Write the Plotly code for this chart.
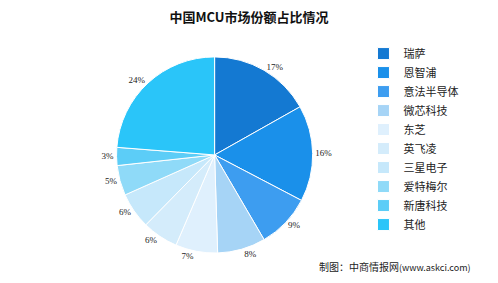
import plotly.graph_objects as go

labels = ["瑞萨", "恩智浦", "意法半导体", "微芯科技", "东芝", "英飞凌", "三星电子", "爱特梅尔", "新唐科技", "其他"]
values = [17, 16, 9, 8, 7, 6, 6, 5, 3, 24]
colors = ["#1479d2", "#1a90ea", "#3d9df0", "#a6d4f6", "#dff0fd", "#d4ecfb", "#c6e8fb", "#8fdaf8", "#5ccdf7", "#2ac5f9"]

fig = go.Figure(go.Pie(
    labels=labels, values=values, sort=False, direction="clockwise", rotation=0,
    marker=dict(colors=colors, line=dict(color="white", width=1)),
    texttemplate="%{value}%", textposition="outside",
    textfont=dict(size=9, color="#222", family="Liberation Serif"),
    domain=dict(x=[0.056, 0.701], y=[0.106, 0.799]),
    showlegend=True,
))
fig.update_layout(
    width=498, height=283, margin=dict(l=0, r=0, t=0, b=0),
    paper_bgcolor="white", plot_bgcolor="white",
    title=dict(text="<b>中国MCU市场份额占比情况</b>", x=0.5, xanchor="center", y=0.94, yanchor="middle",
               font=dict(size=13, color="#111", family="Noto Sans CJK SC")),
    legend=dict(x=0.705, y=0.862, xanchor="left", yanchor="top", font=dict(size=11, color="#222", family="Noto Sans CJK SC"),
                tracegroupgap=0, itemwidth=30, bgcolor="rgba(0,0,0,0)"),
    annotations=[dict(text="制图：中商情报网<span style='font-size:9px'>(www.askci.com)</span>", x=0.945, y=0.06, xref="paper", yref="paper",
                      xanchor="right", yanchor="middle", showarrow=False,
                      font=dict(size=10, color="#222", family="Noto Sans CJK SC"))],
)
fig.write_html("out.html")
